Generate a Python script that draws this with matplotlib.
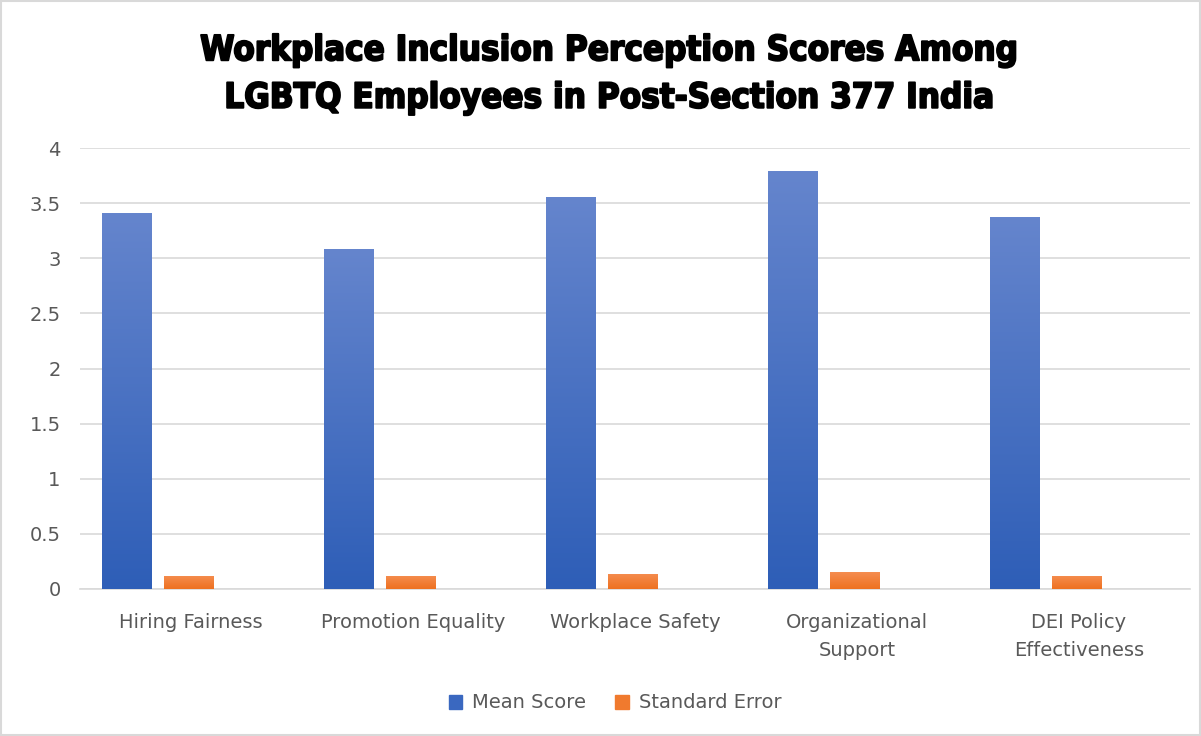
import matplotlib.pyplot as plt
import matplotlib.patheffects as pe
import numpy as np
from matplotlib.colors import LinearSegmentedColormap
from matplotlib.patches import Rectangle, Patch

categories = ['Hiring Fairness', 'Promotion Equality', 'Workplace Safety',
              'Organizational\nSupport', 'DEI Policy\nEffectiveness']
mean_score = [3.41, 3.08, 3.56, 3.79, 3.37]
std_error = [0.12, 0.12, 0.14, 0.15, 0.12]

fig = plt.figure(figsize=(12.01, 7.36), dpi=100)
ax = fig.add_axes([80 / 1201, 1 - 589 / 736, 1110 / 1201, 441 / 736])

x = np.arange(len(categories))
w = 0.225
step = 0.277

bars_mean = ax.bar(x - step - 0.01, mean_score, width=w, color='#4472C4', zorder=2)
bars_se = ax.bar(x - 0.01, std_error, width=w, color='#ED7D31', zorder=2)

# gradiente estilo Excel dentro de cada barra
grad = np.linspace(0, 1, 256).reshape(-1, 1)
cmap_azul = LinearSegmentedColormap.from_list('azul', ['#2E5EB7', '#6585CD'])
cmap_laranja = LinearSegmentedColormap.from_list('laranja', ['#EE7120', '#F58D50'])
for barras, cmap in [(bars_mean, cmap_azul), (bars_se, cmap_laranja)]:
    for b in barras:
        x0, y0 = b.get_x(), b.get_y()
        x1, y1 = x0 + b.get_width(), y0 + b.get_height()
        im = ax.imshow(grad, cmap=cmap, extent=[x0, x1, y0, y1], origin='lower',
                       aspect='auto', zorder=3)
        im.set_clip_path(b)

ax.set_xlim(-0.5, len(categories) - 0.5)
ax.set_ylim(0, 4)
ax.set_yticks(np.arange(0, 4.01, 0.5))
ax.set_yticklabels(['0', '0.5', '1', '1.5', '2', '2.5', '3', '3.5', '4'])
ax.set_xticks(x)
ax.set_xticklabels(categories, linespacing=1.62)

ax.tick_params(axis='both', length=0, labelsize=14, labelcolor='#595959')
ax.tick_params(axis='x', pad=17)
ax.tick_params(axis='y', pad=14)
ax.grid(axis='y', color='#D9D9D9', linewidth=1.2, zorder=0)
ax.set_axisbelow(True)
for s in ['top', 'right', 'left']:
    ax.spines[s].set_visible(False)
ax.spines['bottom'].set_color('#D9D9D9')
ax.spines['bottom'].set_linewidth(1.2)

fig.text(0.508, 1 - 74 / 736,
         'Workplace Inclusion Perception Scores Among\nLGBTQ Employees in Post-Section 377 India',
         ha='center', va='center', fontsize=25, fontweight='heavy',
         family='DejaVu Sans', stretch='condensed', linespacing=1.5,
         path_effects=[pe.withStroke(linewidth=1.4, foreground='black')])

handles = [Patch(color='#3A68C0', label='Mean Score'),
           Patch(color='#F07A2E', label='Standard Error')]
fig.legend(handles=handles, loc='center', bbox_to_anchor=(0.512, 1 - 703 / 736),
           ncol=2, frameon=False, fontsize=14, labelcolor='#595959',
           handlelength=0.7, handleheight=0.7, columnspacing=1.5, handletextpad=0.5)

fig.add_artist(Rectangle((0.001, 0.001), 0.998, 0.998, transform=fig.transFigure,
                         fill=False, edgecolor='#D9D9D9', linewidth=1.5))

fig.savefig('out.png', dpi=100)
